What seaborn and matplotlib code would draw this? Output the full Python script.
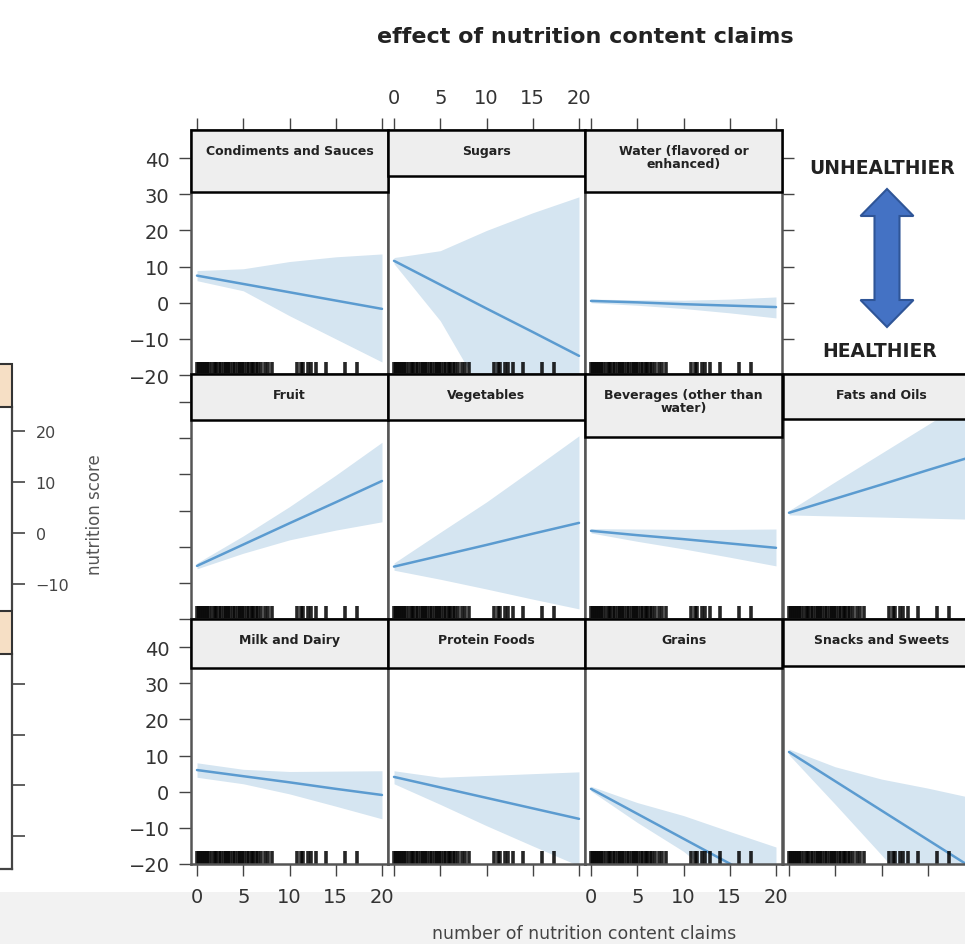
import pandas as pd
import seaborn as sns
import matplotlib.pyplot as plt
import matplotlib.patches as mpatches

W, H = 965, 945

# DATA (values at 0, 5, 10, 15, 20 claims)
claims = [0, 5, 10, 15, 20]
categories = ['Condiments and Sauces', 'Sugars', 'Water (flavored or\nenhanced)',
              'Fruit', 'Vegetables', 'Beverages (other than\nwater)', 'Fats and Oils',
              'Milk and Dairy', 'Protein Foods', 'Grains', 'Snacks and Sweets']
fit = [[7.5, 5.2, 2.9, 0.6, -1.7],
       [11.6, 5.0, -1.6, -8.1, -14.7],
       [0.5, 0.1, -0.4, -0.8, -1.2],
       [-5.3, 0.6, 6.5, 12.3, 18.2],
       [-5.5, -2.5, 0.5, 3.6, 6.6],
       [4.4, 3.2, 2.1, 0.9, -0.3],
       [9.4, 13.3, 17.2, 21.2, 25.1],
       [6.0, 4.3, 2.6, 0.8, -0.9],
       [4.1, 1.2, -1.7, -4.6, -7.5],
       [0.8, -6.1, -13.0, -19.9, -26.8],
       [11.0, 2.9, -5.2, -13.3, -21.4]]
lower = [[6.1, 3.3, -3.6, -10.0, -16.4],
         [10.8, -5.0, -27.0, -52.0, -80.0],
         [0.0, -0.7, -1.6, -2.8, -4.2],
         [-6.1, -1.8, 1.9, 4.6, 6.9],
         [-6.5, -9.0, -11.7, -14.5, -17.2],
         [3.8, 1.5, -0.6, -2.9, -5.3],
         [8.8, 8.5, 8.2, 7.9, 7.6],
         [4.0, 2.2, -0.6, -4.0, -7.5],
         [2.2, -3.5, -9.4, -15.0, -20.5],
         [0.2, -8.5, -16.5, -27.0, -40.0],
         [10.2, -3.5, -17.5, -32.0, -47.0]]
upper = [[8.9, 9.4, 11.4, 12.7, 13.5],
         [12.5, 14.4, 20.0, 24.9, 29.3],
         [1.0, 0.8, 0.7, 1.0, 1.6],
         [-4.5, 3.0, 11.1, 19.8, 28.9],
         [-4.5, 4.0, 12.4, 21.5, 30.7],
         [5.0, 4.9, 4.8, 4.8, 4.9],
         [10.0, 18.0, 25.9, 33.8, 41.7],
         [8.0, 6.2, 5.6, 5.7, 5.8],
         [5.8, 4.0, 4.5, 5.0, 5.5],
         [1.5, -3.0, -6.6, -11.0, -15.3],
         [11.8, 6.9, 3.5, 1.0, -1.8]]
# observed numbers of claims (rug)
rug_x = [0.0, 0.2, 0.4, 0.6, 0.9, 1.1, 1.3, 1.6, 1.9, 2.1, 2.4, 2.6, 2.9, 3.1,
         3.4, 3.6, 3.9, 4.1, 4.4, 4.6, 4.9, 5.1, 5.4, 5.6, 5.9, 6.1, 6.4, 6.6,
         6.9, 7.3, 7.7, 8.1, 10.8, 11.2, 11.5, 12.0, 12.3, 12.9, 14.0, 16.0, 17.3]
xticks = [0, 5, 10, 15, 20]
yticks = [-20, -10, 0, 10, 20, 30, 40]
left_ticks = [-10, 0, 10, 20]

df = pd.DataFrame([
    {'category': cat, 'claims': x, 'fit': f, 'lower': lo, 'upper': up}
    for cat, fs, los, ups in zip(categories, fit, lower, upper)
    for x, f, lo, up in zip(claims, fs, los, ups)
])

# LAYOUT (pixels, origin top-left)
grid_pos = [(0, 0), (0, 1), (0, 2), (1, 0), (1, 1), (1, 2), (1, 3),
            (2, 0), (2, 1), (2, 2), (2, 3)]
strip_h = [62, 46, 62, 46, 46, 63, 45, 49, 49, 49, 47]
col_left = [191, 388, 585, 783]
row_top = [131, 375, 620]
panel_w, panel_h = 197, 245

band_color = '#d5e5f1'
line_color = '#5b9bd0'
strip_color = '#eeeeee'
text_color = '#333333'


def px_rect(l, t, r, b):
    return [l / W, 1 - b / H, (r - l) / W, (b - t) / H]


def fig_xy(x, y):
    return (x / W, 1 - y / H)


def double_arrow(cx, y_top, y_bot, shaft, head, head_len):
    s, h = shaft / 2, head / 2
    pts = [(cx, y_top), (cx + h, y_top + head_len), (cx + s, y_top + head_len),
           (cx + s, y_bot - head_len), (cx + h, y_bot - head_len), (cx, y_bot),
           (cx - h, y_bot - head_len), (cx - s, y_bot - head_len),
           (cx - s, y_top + head_len), (cx - h, y_top + head_len)]
    return [fig_xy(x, y) for x, y in pts]


sns.set_theme(style='white')
plt.rcParams['font.family'] = ['DejaVu Sans']

fig = plt.figure(figsize=(W / 100, H / 100), dpi=100)

# light gray band of the screenshot at the bottom
fig.add_artist(mpatches.Rectangle((0, 0), 1, (H - 893) / H, transform=fig.transFigure,
                                  facecolor='#f2f2f2', edgecolor='none', zorder=-1))

for i, cat in enumerate(categories):
    r, c = grid_pos[i]
    left, top = col_left[c], row_top[r]
    ax = fig.add_axes(px_rect(left, top, left + panel_w, top + panel_h))
    sub = df[df['category'] == cat]
    ax.fill_between(sub['claims'], sub['lower'], sub['upper'], color=band_color, lw=0)
    sns.lineplot(data=sub, x='claims', y='fit', color=line_color, lw=1.8, ax=ax)
    sns.rugplot(x=rug_x, ax=ax, height=0.055, color='black', linewidth=2.6, alpha=0.85)
    ax.set(xlim=(-0.65, 20.65), ylim=(-20, 47.8), xticks=xticks, yticks=yticks,
           xlabel='', ylabel='')
    for sp in ax.spines.values():
        sp.set_color('#555555')
        sp.set_linewidth(1.8)
    ax.tick_params(axis='both', which='both', direction='out', length=8.5, width=1,
                   color='#444444', labelsize=14, labelcolor=text_color,
                   left=(c == 0), labelleft=(c == 0 and r != 1),
                   right=(r == 0 and c == 2), labelright=False,
                   top=(r == 0), labeltop=(r == 0 and c == 1),
                   bottom=(r == 2), labelbottom=(r == 2 and c in (0, 2)))
    ax.tick_params(axis='x', pad=8)
    ax.tick_params(axis='y', pad=7)

    # strip
    sh = strip_h[i]
    fig.add_artist(mpatches.Rectangle(fig_xy(left, top + sh), panel_w / W, sh / H,
                                      transform=fig.transFigure, facecolor=strip_color,
                                      edgecolor='black', lw=1.8, zorder=3))
    fig.text(*fig_xy(left + panel_w / 2, top + 14), cat, ha='center', va='top',
             fontsize=9, fontweight='bold', color='#222222', linespacing=1.0, zorder=4)

# cropped neighbouring panel on the far left
for k, (t, b, lim, labels) in enumerate([(408, 610, (-14.9, 24.7), True),
                                          (655, 870, (-16.5, 25.9), False)]):
    axl = fig.add_axes(px_rect(-120, t, 12, b))
    axl.set(ylim=lim, yticks=left_ticks, xticks=[])
    axl.yaxis.tick_right()
    axl.tick_params(axis='y', direction='out', length=9, width=1.2, color='#444444',
                    labelsize=11.5, labelcolor='#444444', pad=8,
                    right=True, labelright=labels, left=False)
    for name, sp in axl.spines.items():
        sp.set_color('#444444')
        sp.set_linewidth(1.6)
        sp.set_visible(name == 'right' or (name == 'bottom' and k == 1))
    fig.add_artist(mpatches.Rectangle(fig_xy(-10, t), 22 / W, 43 / H,
                                      transform=fig.transFigure, facecolor='#f6dfc5',
                                      edgecolor='#333333', lw=1.5, zorder=3))

fig.text(*fig_xy(95, 515), 'nutrition score', rotation=90, ha='center', va='center',
         fontsize=12, color='#555555')
fig.text(*fig_xy(585, 37), 'effect of nutrition content claims', ha='center',
         va='center', fontsize=16, fontweight='bold', color='#222222')
fig.text(*fig_xy(584, 925), 'number of nutrition content claims', ha='center',
         va='top', fontsize=12.5, color='#444444')

# healthier / unhealthier arrow in the empty cell
fig.add_artist(mpatches.Polygon(double_arrow(887, 190, 328, 25, 53, 27), closed=True,
                                transform=fig.transFigure, facecolor='#4472c4',
                                edgecolor='#2f5597', lw=1.5, zorder=3))
fig.text(*fig_xy(882, 168), 'UNHEALTHIER', ha='center', va='center', fontsize=13.5,
         fontweight='bold', color='#222222')
fig.text(*fig_xy(880, 352), 'HEALTHIER', ha='center', va='center', fontsize=13.5,
         fontweight='bold', color='#222222')

fig.savefig('out.png', dpi=100)
